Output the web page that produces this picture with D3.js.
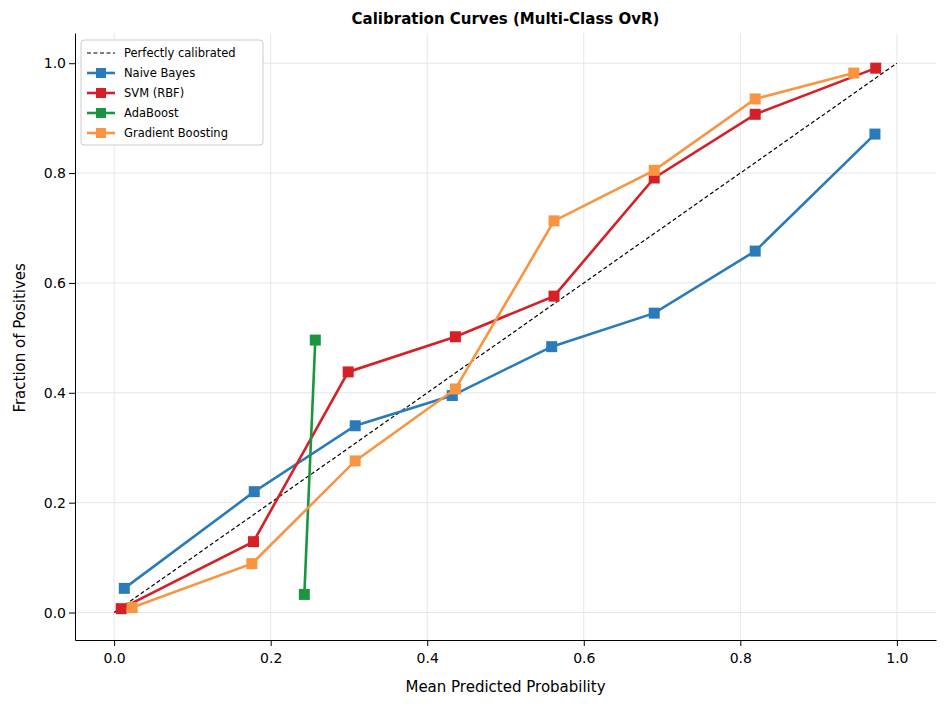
<!DOCTYPE html>
<html><head><meta charset="utf-8">
<script src="https://cdn.jsdelivr.net/npm/d3@7"></script>
<style>body{margin:0;background:#fff;font-family:"DejaVu Sans",sans-serif;}</style>
</head><body>
<script>
var w = 947, h = 707;
var m = {left: 75, right: 11, top: 33, bottom: 67};

var seriesNames = ['Naive Bayes', 'SVM (RBF)', 'AdaBoost', 'Gradient Boosting'];
var seriesColors = ['#2b7bba', '#d62027', '#1a9641', '#f99540'];
var nbX = [0.013, 0.179, 0.308, 0.432, 0.559, 0.690, 0.819, 0.972];
var nbY = [0.044, 0.220, 0.340, 0.395, 0.484, 0.545, 0.658, 0.871];
var svmX = [0.009, 0.178, 0.299, 0.436, 0.562, 0.690, 0.819, 0.973];
var svmY = [0.007, 0.129, 0.438, 0.502, 0.576, 0.791, 0.907, 0.991];
var adaX = [0.243, 0.257];
var adaY = [0.033, 0.496];
var gbX = [0.023, 0.176, 0.308, 0.436, 0.562, 0.690, 0.819, 0.945];
var gbY = [0.009, 0.089, 0.276, 0.407, 0.713, 0.805, 0.935, 0.982];
var ticks = [0, 0.2, 0.4, 0.6, 0.8, 1.0];

var seriesX = [nbX, svmX, adaX, gbX], seriesY = [nbY, svmY, adaY, gbY];

var x = d3.scaleLinear().domain([-0.05, 1.05]).range([m.left, w - m.right]);
var y = d3.scaleLinear().domain([-0.05, 1.055]).range([h - m.bottom, m.top]);

var svg = d3.select('body').append('svg').attr('width', w).attr('height', h);

// grid
svg.append('g').selectAll('line').data(ticks).enter().append('line')
    .attr('x1', d => x(d)).attr('x2', d => x(d))
    .attr('y1', m.top).attr('y2', h - m.bottom)
    .attr('stroke', '#e6e6e6');
svg.append('g').selectAll('line').data(ticks).enter().append('line')
    .attr('y1', d => y(d)).attr('y2', d => y(d))
    .attr('x1', m.left).attr('x2', w - m.right)
    .attr('stroke', '#e6e6e6');

var xa = svg.append('g').attr('transform', 'translate(0,' + (h - m.bottom) + ')')
    .call(d3.axisBottom(x).tickValues(ticks).tickFormat(d3.format('.1f')).tickSizeOuter(0));
var ya = svg.append('g').attr('transform', 'translate(' + m.left + ',0)')
    .call(d3.axisLeft(y).tickValues(ticks).tickFormat(d3.format('.1f')).tickSizeOuter(0));
[xa, ya].forEach(a => {
    a.selectAll('text').attr('font-size', 14).attr('fill', '#000').attr('font-family', 'DejaVu Sans');
    a.selectAll('line').attr('stroke', '#000');
    a.select('.domain').attr('stroke', '#000');
});
xa.selectAll('text').attr('dy', '1.0em');

// diagonal
svg.append('line').attr('x1', x(0)).attr('y1', y(0)).attr('x2', x(1)).attr('y2', y(1))
    .attr('stroke', '#000').attr('stroke-width', 1.2).attr('stroke-dasharray', '4,2.5');

var line = d3.line().x(d => x(d[0])).y(d => y(d[1]));
seriesNames.forEach((n, i) => {
    var pts = seriesX[i].map((v, j) => [v, seriesY[i][j]]);
    var g = svg.append('g');
    g.append('path').datum(pts).attr('d', line).attr('fill', 'none')
        .attr('stroke', seriesColors[i]).attr('stroke-width', 2.6);
    g.selectAll('rect').data(pts).enter().append('rect')
        .attr('x', d => x(d[0]) - 5.5).attr('y', d => y(d[1]) - 5.5)
        .attr('width', 11).attr('height', 11).attr('fill', seriesColors[i]);
});

// titles
svg.append('text').attr('x', (m.left + w - m.right) / 2).attr('y', 24).attr('text-anchor', 'middle')
    .attr('font-size', 15).attr('font-weight', 'bold').text('Calibration Curves (Multi-Class OvR)');
svg.append('text').attr('x', x(0.5)).attr('y', 692).attr('text-anchor', 'middle')
    .attr('font-size', 15).text('Mean Predicted Probability');
svg.append('text').attr('transform', 'translate(25,' + y(0.5) + ') rotate(-90)').attr('text-anchor', 'middle')
    .attr('font-size', 15).text('Fraction of Positives');

// legend
var lg = svg.append('g').attr('transform', 'translate(81,40)');
lg.append('rect').attr('width', 182).attr('height', 105).attr('rx', 3)
    .attr('fill', '#fff').attr('stroke', '#ccc');
var items = [{n: 'Perfectly calibrated', c: '#000', d: true}].concat(seriesNames.map((n, i) => ({n: n, c: seriesColors[i]})));
items.forEach((it, i) => {
    var yy = 13 + i * 20;
    lg.append('line').attr('x1', 6).attr('x2', 34).attr('y1', yy).attr('y2', yy)
        .attr('stroke', it.c).attr('stroke-width', it.d ? 1.2 : 2.6)
        .attr('stroke-dasharray', it.d ? '4,2.5' : null);
    if (!it.d) lg.append('rect').attr('x', 15).attr('y', yy - 5).attr('width', 10).attr('height', 10).attr('fill', it.c);
    lg.append('text').attr('x', 43).attr('y', yy + 4).attr('font-size', 11.5).text(it.n);
});
</script>
</body></html>
